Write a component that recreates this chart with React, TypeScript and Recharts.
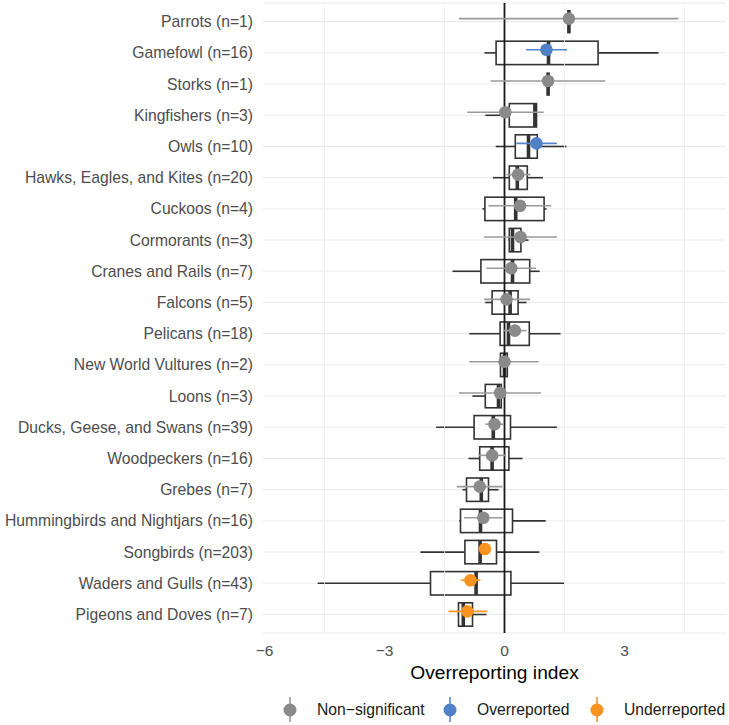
import React from 'react';
import { ComposedChart, Bar, XAxis, YAxis, CartesianGrid, ReferenceLine, Legend } from 'recharts';

const categories = [
  'Parrots (n=1)', 'Gamefowl (n=16)', 'Storks (n=1)', 'Kingfishers (n=3)', 'Owls (n=10)',
  'Hawks, Eagles, and Kites (n=20)', 'Cuckoos (n=4)', 'Cormorants (n=3)', 'Cranes and Rails (n=7)',
  'Falcons (n=5)', 'Pelicans (n=18)', 'New World Vultures (n=2)', 'Loons (n=3)',
  'Ducks, Geese, and Swans (n=39)', 'Woodpeckers (n=16)', 'Grebes (n=7)',
  'Hummingbirds and Nightjars (n=16)', 'Songbirds (n=203)', 'Waders and Gulls (n=43)', 'Pigeons and Doves (n=7)',
];
const whiskerLow = [1.61, -0.5, 1.09, -0.48, -0.22, -0.29, -0.55, 0.1, -1.3, -0.48, -0.88, -0.1, -0.8, -1.71, -0.9, -1.05, -1.13, -2.1, -4.67, -1.17];
const boxQ1 = [1.61, -0.21, 1.09, 0.12, 0.27, 0.12, -0.49, 0.12, -0.59, -0.31, -0.11, -0.1, -0.48, -0.76, -0.62, -0.95, -1.1, -0.99, -1.85, -1.15];
const boxMedian = [1.61, 1.1, 1.09, 0.76, 0.6, 0.32, 0.28, 0.2, 0.2, 0.14, 0.1, 0.0, -0.15, -0.28, -0.31, -0.58, -0.6, -0.61, -0.71, -1.03];
const boxQ3 = [1.61, 2.34, 1.09, 0.8, 0.82, 0.57, 0.99, 0.41, 0.63, 0.34, 0.62, 0.07, -0.08, 0.15, 0.11, -0.4, 0.2, -0.2, 0.16, -0.8];
const whiskerHigh = [1.61, 3.85, 1.09, 0.8, 1.55, 0.96, 1.05, 0.6, 0.88, 0.55, 1.4, 0.07, -0.08, 1.31, 0.45, -0.15, 1.03, 0.87, 1.49, -0.45];
const indexValue = [1.61, 1.05, 1.09, 0.02, 0.8, 0.34, 0.39, 0.4, 0.17, 0.05, 0.26, 0.0, -0.11, -0.25, -0.31, -0.62, -0.53, -0.49, -0.85, -0.93];
const ciLow = [-1.14, 0.54, -0.35, -0.93, 0.3, 0.05, -0.4, -0.51, -0.45, -0.51, -0.03, -0.88, -1.14, -0.48, -0.65, -1.19, -1.01, -0.56, -1.09, -1.4];
const ciHigh = [4.35, 1.56, 2.52, 0.98, 1.31, 0.65, 1.17, 1.31, 0.79, 0.64, 0.55, 0.85, 0.91, -0.02, 0.04, -0.05, -0.05, -0.42, -0.6, -0.43];
const status = [
  'Non-significant', 'Overreported', 'Non-significant', 'Non-significant', 'Overreported',
  'Non-significant', 'Non-significant', 'Non-significant', 'Non-significant', 'Non-significant',
  'Non-significant', 'Non-significant', 'Non-significant', 'Non-significant', 'Non-significant',
  'Non-significant', 'Non-significant', 'Underreported', 'Underreported', 'Underreported',
];
const legendLabels = ['Non\u2212significant', 'Overreported', 'Underreported'];
const legendKeys = ['Non-significant', 'Overreported', 'Underreported'];
const xTicks = [-6, -3, 0, 3];
const minorGrid = [-4.5, -1.5, 1.5, 4.5];

const data = categories.map((name, i) => ({
  name,
  wLo: whiskerLow[i], q1: boxQ1[i], med: boxMedian[i], q3: boxQ3[i], wHi: whiskerHigh[i],
  idx: indexValue[i], lo: ciLow[i], hi: ciHigh[i], status: status[i],
}));

const FONT = '"Liberation Sans", Arial, Helvetica, sans-serif';
const POINT_COLORS: Record<string, string> = {
  'Non-significant': '#8A8A8A', Overreported: '#4F80C8', Underreported: '#F7931E',
};
const LINE_COLORS: Record<string, string> = {
  'Non-significant': '#9A9A9A', Overreported: '#5585CC', Underreported: '#F7931E',
};
const BOX_STROKE = '#333333';
const POINT_NUDGE = -0.1; // fraction of band

function BoxShape(props: any) {
  const { x, y, width, height, payload } = props;
  const cy = y + height / 2;
  const span = payload.wHi - payload.wLo;
  if (!(span > 0)) {
    return <line x1={x} x2={x} y1={y} y2={y + height} stroke={BOX_STROKE} strokeWidth={3.6} />;
  }
  const ppu = width / span;
  const sx = (v: number) => x + (v - payload.wLo) * ppu;
  return (
    <g>
      <line x1={sx(payload.wLo)} x2={sx(payload.q1)} y1={cy} y2={cy} stroke={BOX_STROKE} strokeWidth={1.6} />
      <line x1={sx(payload.q3)} x2={sx(payload.wHi)} y1={cy} y2={cy} stroke={BOX_STROKE} strokeWidth={1.6} />
      <rect x={sx(payload.q1)} y={y} width={Math.max(0, sx(payload.q3) - sx(payload.q1))} height={height}
        fill="#ffffff" stroke={BOX_STROKE} strokeWidth={1.6} />
      <line x1={sx(payload.med)} x2={sx(payload.med)} y1={y} y2={y + height} stroke={BOX_STROKE} strokeWidth={3.6} />
    </g>
  );
}

function PointShape(props: any) {
  const { x, y, width, height, payload } = props;
  const band = height / 0.75;
  const cy = y + height / 2 + POINT_NUDGE * band;
  const span = payload.hi - payload.lo;
  const ppu = width / span;
  const px = x + (payload.idx - payload.lo) * ppu;
  return (
    <g>
      <line x1={x} x2={x + width} y1={cy} y2={cy} stroke={LINE_COLORS[payload.status]} strokeWidth={1.6} />
      <circle cx={px} cy={cy} r={6.3} fill={POINT_COLORS[payload.status]} />
    </g>
  );
}

function LegendContent() {
  const centers = [290, 450, 597];
  return (
    <div style={{ position: 'relative', width: 729, height: 30, fontFamily: FONT }}>
      {legendKeys.map((k, i) => (
        <div key={k}>
          <svg style={{ position: 'absolute', left: centers[i] - 8, top: 0 }} width={16} height={30}>
            <line x1={8} x2={8} y1={2} y2={27} stroke={LINE_COLORS[k]} strokeWidth={1.6} />
            <circle cx={8} cy={15} r={6.5} fill={POINT_COLORS[k]} />
          </svg>
          <span style={{ position: 'absolute', left: centers[i] + 27, top: 5, fontSize: 15.7, lineHeight: '20px', color: '#1a1a1a', whiteSpace: 'nowrap' }}>
            {legendLabels[i]}
          </span>
        </div>
      ))}
    </div>
  );
}

const fmt = (v: number) => (v < 0 ? '\u2212' + Math.abs(v) : String(v));

export default function App() {
  return (
    <div style={{ position: 'absolute', left: 0, top: 0, width: 729, height: 725, background: '#fff' }}>
      <ComposedChart width={729} height={725} data={data} layout="vertical"
        margin={{ top: 3, right: 3, bottom: 0, left: 0 }} style={{ fontFamily: FONT }}>
        <CartesianGrid yAxisId="a" horizontal={true} vertical={false} stroke="#EBEBEB" strokeWidth={1.1} />
        <XAxis type="number" domain={[-6.0375, 5.5375]} ticks={xTicks} allowDataOverflow
          tickFormatter={fmt} axisLine={false} tickLine={false} tickSize={6} tickMargin={5.5} height={62}
          tick={{ fill: '#4D4D4D', fontSize: 15.5, fontFamily: FONT }}
          label={{ value: 'Overreporting index', position: 'insideBottom', offset: 16, fill: '#000', fontSize: 19.2, fontFamily: FONT }} />
        <YAxis yAxisId="a" type="category" dataKey="name" width={263} axisLine={false} tickLine={false}
          tickSize={6} tickMargin={4} padding={{ top: 3, bottom: 3 }} interval={0}
          tick={{ fill: '#4D4D4D', fontSize: 15.7, fontFamily: FONT }} />
        <YAxis yAxisId="b" type="category" dataKey="name" hide padding={{ top: 3, bottom: 3 }} />
        {minorGrid.map(v => (
          <ReferenceLine key={v} yAxisId="a" x={v} stroke="#EEEEEE" strokeWidth={0.8} ifOverflow="extendDomain" />
        ))}
        <Bar yAxisId="a" dataKey={(d: any) => [d.wLo, d.wHi]} barSize={23.4} shape={BoxShape} isAnimationActive={false} />
        <ReferenceLine yAxisId="a" x={0} stroke="#1a1a1a" strokeWidth={1.8} />
        <Bar yAxisId="b" dataKey={(d: any) => [d.lo, d.hi]} barSize={23.4} shape={PointShape} isAnimationActive={false} zIndex={900} />
        <Legend verticalAlign="bottom" height={30} content={LegendContent} wrapperStyle={{ left: 0, width: 729 }} />
      </ComposedChart>
    </div>
  );
}
